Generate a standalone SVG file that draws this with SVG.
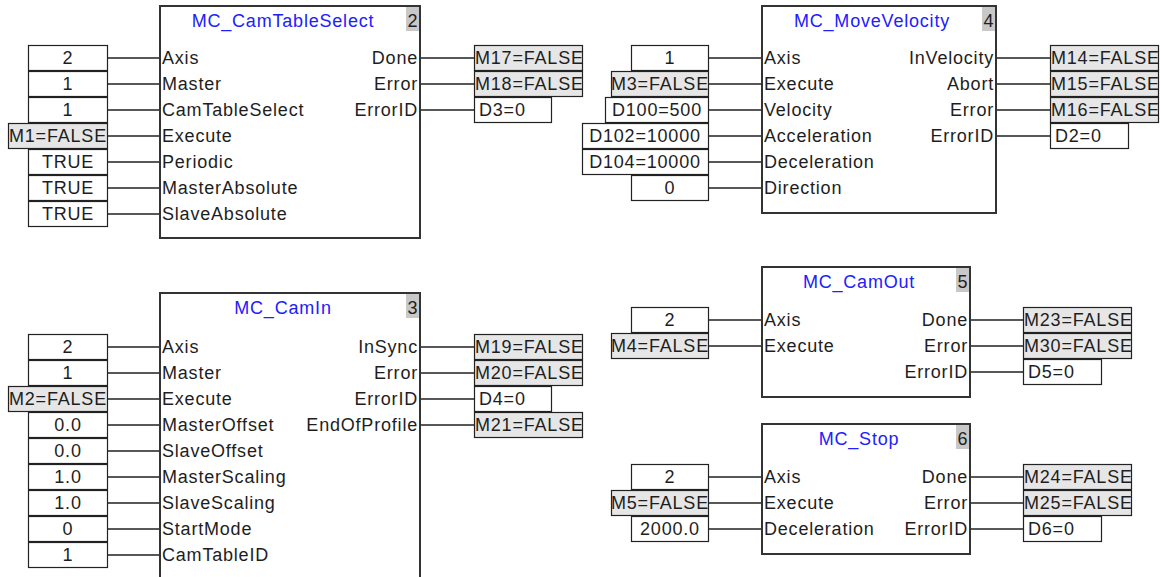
<svg xmlns="http://www.w3.org/2000/svg" width="1161" height="577" viewBox="0 0 1161 577">
<style>
text{font-family:"Liberation Sans",Arial,sans-serif;font-size:18px;letter-spacing:0.8px;fill:#1e1e1e}
.blk{fill:#fff;stroke:#333;stroke-width:2}
.badge{fill:#c8c8c8}
.title{fill:#2020ff;text-anchor:middle}
.num{text-anchor:middle}
.out{text-anchor:end}
.vc{text-anchor:middle}
.v{fill:#fff;stroke:#222;stroke-width:1.2}
.vm{fill:#e6e6e6;stroke:#222;stroke-width:1.2}
.wire{stroke:#222;stroke-width:1.5;fill:none}
</style>
<rect width="1161" height="577" fill="#fff"/>

<g id="connectors">
<!-- block 2 inputs -->
<path class="wire" d="M108 58H160M108 84H160M108 110H160M108 136H160M108 162H160M108 188H160M108 214H160"/>
<!-- block 2 outputs -->
<path class="wire" d="M420 58H474M420 84H474M420 110H474"/>
<!-- block 4 inputs -->
<path class="wire" d="M709 58H762M709 84H762M709 110H762M709 136H762M709 162H762M709 188H762"/>
<!-- block 4 outputs -->
<path class="wire" d="M996 58H1050M996 84H1050M996 110H1050M996 136H1050"/>
<!-- block 3 inputs -->
<path class="wire" d="M108 347H160M108 373H160M108 399H160M108 425H160M108 451H160M108 477H160M108 503H160M108 529H160M108 555H160"/>
<!-- block 3 outputs -->
<path class="wire" d="M420 347H474M420 373H474M420 399H474M420 425H474"/>
<!-- block 5 -->
<path class="wire" d="M709 320H762M709 346H762"/>
<path class="wire" d="M970 320H1023M970 346H1023M970 372H1023"/>
<!-- block 6 -->
<path class="wire" d="M709 477H762M709 503H762M709 529H762"/>
<path class="wire" d="M970 477H1023M970 503H1023M970 529H1023"/>
</g>

<!-- Block 2: MC_CamTableSelect -->
<g id="node-2">
<rect class="blk" x="160" y="6" width="260" height="232"/>
<rect class="badge" x="406" y="7" width="13" height="24"/>
<text class="title" x="283" y="27">MC_CamTableSelect</text>
<text class="num" x="413" y="27">2</text>
<text x="162" y="64">Axis</text>
<text x="162" y="90">Master</text>
<text x="162" y="116">CamTableSelect</text>
<text x="162" y="142">Execute</text>
<text x="162" y="168">Periodic</text>
<text x="162" y="194">MasterAbsolute</text>
<text x="162" y="220">SlaveAbsolute</text>
<text class="out" x="418" y="64">Done</text>
<text class="out" x="418" y="90">Error</text>
<text class="out" x="418" y="116">ErrorID</text>
</g>
<g id="vars-2">
<rect class="v" x="28.5" y="45.5" width="79" height="25"/><text class="vc" x="68" y="64">2</text>
<rect class="v" x="28.5" y="71.5" width="79" height="25"/><text class="vc" x="68" y="90">1</text>
<rect class="v" x="28.5" y="97.5" width="79" height="25"/><text class="vc" x="68" y="116">1</text>
<rect class="vm" x="8.5" y="123.5" width="99" height="25"/><text class="vc" x="58" y="142">M1=FALSE</text>
<rect class="v" x="28.5" y="149.5" width="79" height="25"/><text class="vc" x="68" y="168">TRUE</text>
<rect class="v" x="28.5" y="175.5" width="79" height="25"/><text class="vc" x="68" y="194">TRUE</text>
<rect class="v" x="28.5" y="201.5" width="79" height="25"/><text class="vc" x="68" y="220">TRUE</text>
<rect class="vm" x="474.5" y="45.5" width="108" height="25"/><text x="475" y="64">M17=FALSE</text>
<rect class="vm" x="474.5" y="71.5" width="108" height="25"/><text x="475" y="90">M18=FALSE</text>
<rect class="v" x="474.5" y="97.5" width="77" height="25"/><text x="479" y="116">D3=0</text>
</g>

<!-- Block 4: MC_MoveVelocity -->
<g id="node-4">
<rect class="blk" x="762" y="6" width="234" height="207"/>
<rect class="badge" x="982" y="7" width="13" height="24"/>
<text class="title" x="872" y="27">MC_MoveVelocity</text>
<text class="num" x="989" y="27">4</text>
<text x="764" y="64">Axis</text>
<text x="764" y="90">Execute</text>
<text x="764" y="116">Velocity</text>
<text x="764" y="142">Acceleration</text>
<text x="764" y="168">Deceleration</text>
<text x="764" y="194">Direction</text>
<text class="out" x="994" y="64">InVelocity</text>
<text class="out" x="994" y="90">Abort</text>
<text class="out" x="994" y="116">Error</text>
<text class="out" x="994" y="142">ErrorID</text>
</g>
<g id="vars-4">
<rect class="v" x="631.5" y="45.5" width="77" height="25"/><text class="vc" x="670" y="64">1</text>
<rect class="vm" x="611.5" y="71.5" width="97" height="25"/><text class="vc" x="660" y="90">M3=FALSE</text>
<rect class="v" x="605.5" y="97.5" width="103" height="25"/><text class="vc" x="657" y="116">D100=500</text>
<rect class="v" x="582.5" y="123.5" width="126" height="25"/><text class="vc" x="645" y="142">D102=10000</text>
<rect class="v" x="582.5" y="149.5" width="126" height="25"/><text class="vc" x="645" y="168">D104=10000</text>
<rect class="v" x="631.5" y="175.5" width="77" height="25"/><text class="vc" x="670" y="194">0</text>
<rect class="vm" x="1050.5" y="45.5" width="108" height="25"/><text x="1051" y="64">M14=FALSE</text>
<rect class="vm" x="1050.5" y="71.5" width="108" height="25"/><text x="1051" y="90">M15=FALSE</text>
<rect class="vm" x="1050.5" y="97.5" width="108" height="25"/><text x="1051" y="116">M16=FALSE</text>
<rect class="v" x="1050.5" y="123.5" width="78" height="25"/><text x="1055" y="142">D2=0</text>
</g>

<!-- Block 3: MC_CamIn -->
<g id="node-3">
<rect class="blk" x="160" y="293" width="260" height="300"/>
<rect class="badge" x="406" y="294" width="13" height="24"/>
<text class="title" x="283" y="314">MC_CamIn</text>
<text class="num" x="413" y="314">3</text>
<text x="162" y="353">Axis</text>
<text x="162" y="379">Master</text>
<text x="162" y="405">Execute</text>
<text x="162" y="431">MasterOffset</text>
<text x="162" y="457">SlaveOffset</text>
<text x="162" y="483">MasterScaling</text>
<text x="162" y="509">SlaveScaling</text>
<text x="162" y="535">StartMode</text>
<text x="162" y="561">CamTableID</text>
<text class="out" x="418" y="353">InSync</text>
<text class="out" x="418" y="379">Error</text>
<text class="out" x="418" y="405">ErrorID</text>
<text class="out" x="418" y="431">EndOfProfile</text>
</g>
<g id="vars-3">
<rect class="v" x="28.5" y="334.5" width="79" height="25"/><text class="vc" x="68" y="353">2</text>
<rect class="v" x="28.5" y="360.5" width="79" height="25"/><text class="vc" x="68" y="379">1</text>
<rect class="vm" x="8.5" y="386.5" width="99" height="25"/><text class="vc" x="58" y="405">M2=FALSE</text>
<rect class="v" x="28.5" y="412.5" width="79" height="25"/><text class="vc" x="68" y="431">0.0</text>
<rect class="v" x="28.5" y="438.5" width="79" height="25"/><text class="vc" x="68" y="457">0.0</text>
<rect class="v" x="28.5" y="464.5" width="79" height="25"/><text class="vc" x="68" y="483">1.0</text>
<rect class="v" x="28.5" y="490.5" width="79" height="25"/><text class="vc" x="68" y="509">1.0</text>
<rect class="v" x="28.5" y="516.5" width="79" height="25"/><text class="vc" x="68" y="535">0</text>
<rect class="v" x="28.5" y="542.5" width="79" height="25"/><text class="vc" x="68" y="561">1</text>
<rect class="vm" x="474.5" y="334.5" width="108" height="25"/><text x="475" y="353">M19=FALSE</text>
<rect class="vm" x="474.5" y="360.5" width="108" height="25"/><text x="475" y="379">M20=FALSE</text>
<rect class="v" x="474.5" y="386.5" width="77" height="25"/><text x="479" y="405">D4=0</text>
<rect class="vm" x="474.5" y="412.5" width="108" height="25"/><text x="475" y="431">M21=FALSE</text>
</g>

<!-- Block 5: MC_CamOut -->
<g id="node-5">
<rect class="blk" x="762" y="267" width="208" height="130"/>
<rect class="badge" x="956" y="268" width="13" height="24"/>
<text class="title" x="859" y="288">MC_CamOut</text>
<text class="num" x="963" y="288">5</text>
<text x="764" y="326">Axis</text>
<text x="764" y="352">Execute</text>
<text class="out" x="968" y="326">Done</text>
<text class="out" x="968" y="352">Error</text>
<text class="out" x="968" y="378">ErrorID</text>
</g>
<g id="vars-5">
<rect class="v" x="631.5" y="307.5" width="77" height="25"/><text class="vc" x="670" y="326">2</text>
<rect class="vm" x="611.5" y="333.5" width="97" height="25"/><text class="vc" x="660" y="352">M4=FALSE</text>
<rect class="vm" x="1023.5" y="307.5" width="108" height="25"/><text x="1024" y="326">M23=FALSE</text>
<rect class="vm" x="1023.5" y="333.5" width="108" height="25"/><text x="1024" y="352">M30=FALSE</text>
<rect class="v" x="1023.5" y="359.5" width="78" height="25"/><text x="1028" y="378">D5=0</text>
</g>

<!-- Block 6: MC_Stop -->
<g id="node-6">
<rect class="blk" x="762" y="424" width="208" height="130"/>
<rect class="badge" x="956" y="425" width="13" height="24"/>
<text class="title" x="859" y="445">MC_Stop</text>
<text class="num" x="963" y="445">6</text>
<text x="764" y="483">Axis</text>
<text x="764" y="509">Execute</text>
<text x="764" y="535">Deceleration</text>
<text class="out" x="968" y="483">Done</text>
<text class="out" x="968" y="509">Error</text>
<text class="out" x="968" y="535">ErrorID</text>
</g>
<g id="vars-6">
<rect class="v" x="631.5" y="464.5" width="77" height="25"/><text class="vc" x="670" y="483">2</text>
<rect class="vm" x="611.5" y="490.5" width="97" height="25"/><text class="vc" x="660" y="509">M5=FALSE</text>
<rect class="v" x="631.5" y="516.5" width="77" height="25"/><text class="vc" x="670" y="535">2000.0</text>
<rect class="vm" x="1023.5" y="464.5" width="108" height="25"/><text x="1024" y="483">M24=FALSE</text>
<rect class="vm" x="1023.5" y="490.5" width="108" height="25"/><text x="1024" y="509">M25=FALSE</text>
<rect class="v" x="1023.5" y="516.5" width="78" height="25"/><text x="1028" y="535">D6=0</text>
</g>
</svg>
